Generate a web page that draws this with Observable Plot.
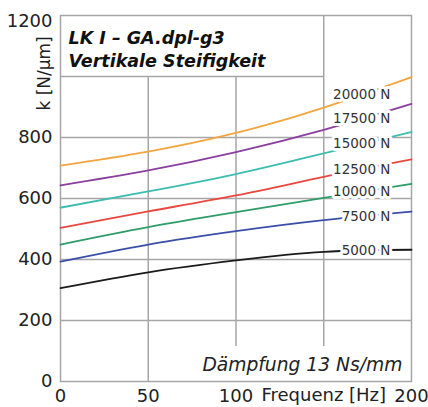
<!DOCTYPE html>
<html><head><meta charset="utf-8">
<script src="https://cdn.jsdelivr.net/npm/d3@7"></script>
<script src="https://cdn.jsdelivr.net/npm/@observablehq/plot@0.6"></script>
<style>html,body{margin:0;padding:0;background:#fff;} svg{display:block}</style>
</head><body><div id="chart"></div>
<script>
// Frequency (Hz) sample points
const freq = [0, 50, 100, 150, 200];
// Load series labels and colours
const loads = ["20000 N", "17500 N", "15000 N", "12500 N", "10000 N", "7500 N", "5000 N"];
const colors = ["#f3a540", "#8b3f9f", "#3dbdb0", "#e8483f", "#2f9c6a", "#3b4fa8", "#1a1a1a"];
// Vertical stiffness k [N/µm] per load
const k20000 = [708, 754, 815, 898, 998];
const k17500 = [643, 692, 752, 825, 910];
const k15000 = [570, 623, 680, 748, 818];
const k12500 = [504, 558, 610, 671, 728];
const k10000 = [449, 506, 555, 602, 648];
const k7500  = [393, 449, 493, 529, 557];
const k5000  = [306, 358, 397, 425, 432];
const series = [k20000, k17500, k15000, k12500, k10000, k7500, k5000];

// Tick labels
const xTicks = [0, 50, 100, 200];
const yTicks = [0, 200, 400, 600, 800];
const yTickTop = [1200];
const gridY = [200, 400, 600, 800];

const title = "LK I – GA.dpl-g3\nVertikale Steifigkeit";
const note = "Dämpfung 13 Ns/mm";
const xLabel = "Frequenz [Hz]";
const yLabel = "k [N/µm]";

const rows = [];
loads.forEach((load, i) => freq.forEach((f, j) => rows.push({load, f, k: series[i][j]})));

const labelAt = 172;
function interp(arr, x) {
  for (let j = 0; j < freq.length - 1; j++) {
    if (x >= freq[j] && x <= freq[j + 1]) {
      const t = (x - freq[j]) / (freq[j + 1] - freq[j]);
      return arr[j] + t * (arr[j + 1] - arr[j]);
    }
  }
  return arr[arr.length - 1];
}
const labels = loads.map((load, i) => ({load, f: 188, k: interp(series[i], labelAt)}));

const gridCol = "#a6a6a6";
const textCol = "#222";
const fmt = d => String(d);

const chart = Plot.plot({
  width: 428, height: 407,
  marginLeft: 60, marginRight: 17, marginTop: 15, marginBottom: 26,
  style: {fontFamily: "DejaVu Sans", background: "#fff", color: textCol},
  x: {domain: [0, 200]},
  y: {domain: [0, 1200]},
  color: {domain: loads, range: colors},
  marks: [
    Plot.ruleY(gridY, {stroke: gridCol, strokeWidth: 1.5}),
    Plot.ruleY([1000], {x1: 0, x2: 150, stroke: gridCol, strokeWidth: 1.5}),
    Plot.ruleX([50], {y1: 0, y2: 1000, stroke: gridCol, strokeWidth: 1.5}),
    Plot.ruleX([100], {y1: 115, y2: 1000, stroke: gridCol, strokeWidth: 1.5}),
    Plot.ruleX([150], {y1: 115, y2: 1200, stroke: gridCol, strokeWidth: 1.5}),
    Plot.frame({stroke: gridCol, strokeWidth: 1.5}),
    Plot.line(rows, {x: "f", y: "k", z: "load", stroke: "load", strokeWidth: 1.8, curve: "natural"}),
    Plot.text(labels, {x: "f", y: "k", text: "load", textAnchor: "end", fontSize: 13.5, fill: "#333",
      stroke: "white", strokeWidth: 6, paintOrder: "stroke"}),
    Plot.axisX(xTicks, {tickSize: 0, tickPadding: 8, fontSize: 18, label: null, fill: textCol, tickFormat: fmt}),
    Plot.axisY(yTicks, {tickSize: 0, tickPadding: 8, fontSize: 18, label: null, fill: textCol, tickFormat: fmt}),
    Plot.axisY(yTickTop, {tickSize: 0, tickPadding: 8, fontSize: 18, label: null, dy: 6, fill: textCol, tickFormat: fmt}),
    Plot.text([xLabel], {x: 150, y: 0, dy: 19, lineAnchor: "bottom", fontSize: 18, fill: textCol}),
    Plot.text([yLabel], {x: -9.2, y: 1010, rotate: -90, textAnchor: "middle", lineAnchor: "middle", fontSize: 17, fill: textCol}),
    Plot.text([title], {frameAnchor: "top-left", dx: 8, dy: 11, textAnchor: "start", lineAnchor: "top",
      fontSize: 17.5, fontWeight: "bold", fontStyle: "italic", lineHeight: 1.37, fill: "#111"}),
    Plot.text([note], {frameAnchor: "bottom-right", dx: -9, dy: -11, textAnchor: "end", lineAnchor: "bottom",
      fontSize: 18.7, fontStyle: "italic", fill: textCol})
  ]
});
document.getElementById("chart").appendChild(chart);
</script>
</body></html>
